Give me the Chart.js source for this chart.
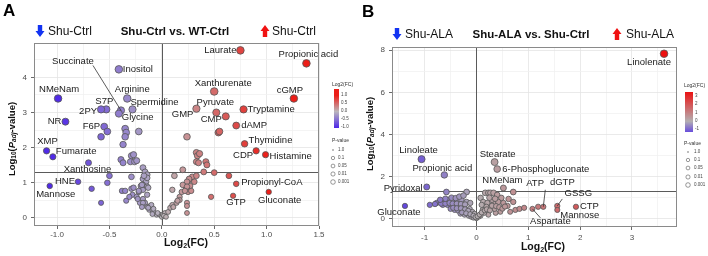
<!DOCTYPE html>
<html>
<head>
<meta charset="utf-8">
<script src="https://cdn.jsdelivr.net/npm/chart.js@4.4.1/dist/chart.umd.min.js"></script>
<style>
  body { margin: 0; background: #fff; }
  #wrap { position: relative; width: 708px; height: 256px; }
  canvas { position: absolute; top: 0; }
</style>
</head>
<body>
<div id="wrap">
  <canvas id="chartA" width="354" height="256" style="left:0"></canvas>
  <canvas id="chartB" width="354" height="256" style="left:354px"></canvas>
</div>
<script>
// ---- panel A: Shu-Ctrl vs. WT-Ctrl ----
const namesA = ["Inositol", "NMeNam", "Arginine", "S7P", "2PY", "Spermidine", "Succinate", "Glycine",
  "NR", "F6P", "XMP", "Fumarate", "Xanthosine", "HNE", "Mannose", "GMP", "Pyruvate", "CMP",
  "Xanthurenate", "Laurate", "Propionic acid", "cGMP", "Tryptamine", "dAMP", "Thymidine", "CDP",
  "Histamine", "Propionyl-CoA", "GTP", "Gluconate"];
const namedFcA = [-0.41, -0.99, -0.33, -0.53, -0.58, -0.28, -0.39, -0.41,
  -0.92, -0.55, -1.10, -1.04, -0.70, -0.80, -1.07, 0.33, 0.52, 0.61,
  0.50, 0.75, 1.38, 1.26, 0.78, 0.71, 0.79, 0.90,
  0.99, 0.71, 0.68, 1.02];
const namedLogpA = [4.23, 3.40, 3.40, 3.09, 3.09, 3.09, 3.06, 2.97,
  2.74, 2.60, 1.91, 1.74, 1.57, 1.03, 0.91, 3.11, 3.00, 2.89,
  3.60, 4.77, 4.40, 3.40, 3.09, 2.63, 2.11, 1.91,
  1.80, 0.97, 0.63, 0.74];
const otherFcA = [
  -0.52, -0.58, -0.35, -0.34, -0.35, -0.22, -0.37,
  -0.39, -0.37, -0.29, -0.30, -0.27, -0.26, -0.24,
  -0.50, -0.52, -0.67, -0.58, -0.29, -0.38, -0.35, -0.29, -0.28, -0.34, -0.31,
  -0.18, -0.16, -0.14, -0.18, -0.15, -0.18, -0.20, -0.22, -0.18, -0.14, -0.24, -0.18, -0.21, -0.16,
  -0.14, -0.11, -0.12, -0.09, -0.07, -0.05, -0.02, 0.00, 0.01, 0.03, 0.06, 0.08, 0.10, 0.11, 0.14,
  0.17, 0.19, 0.23, 0.25, 0.27, 0.27, 0.29, 0.31, 0.33, 0.24, 0.24, 0.17, 0.12, 0.20,
  0.24, 0.33, 0.34, 0.36, 0.33, 0.35, 0.42, 0.43, 0.40, 0.50, 0.64,
  0.26, 0.24, 0.20, 0.24, 0.28, 0.22, 0.10, 0.15, 0.24, 0.47, 0.54, 0.55,
  -0.27, -0.22, -0.19, -0.14, -0.17, -0.13, -0.23, -0.18, -0.14, -0.10, -0.19, -0.13, -0.08, -0.04, -0.09, 0.02, 0.04];
const otherLogpA = [
  2.46, 2.31, 2.54, 2.43, 2.31, 2.46, 2.09,
  1.66, 1.57, 1.77, 1.60, 1.80, 1.60, 1.63,
  1.20, 1.00, 0.83, 0.43, 1.17, 0.77, 0.77, 0.83, 0.66, 0.49, 0.60,
  1.43, 1.31, 1.23, 1.11, 1.03, 0.94, 0.91, 0.74, 0.80, 0.89, 0.60, 0.54, 0.43, 0.43,
  0.31, 0.34, 0.23, 0.23, 0.14, 0.09, 0.09, 0.03, 0.09, 0.14, 0.17, 0.29, 0.37, 0.31, 0.43,
  0.60, 0.74, 0.86, 0.74, 0.91, 1.09, 1.17, 1.03, 1.20, 0.43, 0.34, 0.51, 1.20, 1.37,
  2.31, 1.86, 1.77, 1.83, 1.60, 1.57, 1.60, 1.51, 1.31, 1.29, 1.20,
  1.11, 1.03, 0.94, 0.89, 0.77, 0.77, 0.80, 0.49, 0.14, 0.60, 2.43, 2.46,
  0.86, 0.77, 0.94, 1.14, 1.20, 0.86, 0.54, 0.43, 0.66, 0.37, 0.31, 0.29, 0.26, 0.14, 0.11, 0.06, 0.03];
const xTicksA = [-1, -0.75, -0.5, -0.25, 0, 0.25, 0.5, 0.75, 1, 1.25, 1.5];
const yTicksA = [0, 0.5, 1, 1.5, 2, 2.5, 3, 3.5, 4, 4.5];
const legendFcA = [1.0, 0.5, 0.0, -0.5, -1.0];

// ---- panel B: Shu-ALA vs. Shu-Ctrl ----
const namesB = ["Linolenate", "Linoleate", "Propionic acid", "Pyridoxal", "Gluconate", "Stearate",
  "6-Phosphogluconate", "NMeNam", "ATP", "dGTP", "GSSG", "Mannose", "CTP", "Aspartate"];
const namedFcB = [3.62, -1.06, -0.62, -0.96, -1.38, 0.35, 0.40, 0.52, 1.19, 1.29, 1.56, 1.56, 1.92, 1.08];
const namedLogpB = [7.83, 2.83, 2.08, 1.51, 0.61, 2.69, 2.36, 1.46, 0.57, 0.57, 0.61, 0.42, 0.57, 0.47];
const otherFcB = [
  -0.58, -0.19, -0.90, -0.71, -0.62, -0.54, -0.44, -0.37, -0.29, -0.19, -0.12,
  -0.56, -0.48, -0.40, -0.33, -0.25, -0.50, -0.42, -0.35, -0.27, -0.19, -0.31, -0.23, -0.15, -0.10, -0.06, 0.00,
  -0.13, -0.08, -0.04, -0.65, -0.77,
  0.17, 0.23, 0.27, 0.33, 0.40, 0.48, 0.08, 0.13, 0.21, 0.33, 0.42, 0.52, 0.62, 0.71, 0.60, 0.65, 0.75, 0.83, 0.92,
  0.46, 0.37, 0.23, 0.15, 0.08, 0.04, 0.12, 0.27, 0.35, 0.19, 0.71, 0.10,
  -0.80, -0.68, -0.60, -0.52, -0.46, -0.38, -0.30, -0.22, -0.45, -0.38, -0.30, -0.22, -0.16,
  -0.28, -0.20, -0.12, -0.06, -0.02, 0.02, 0.06, 0.10, 0.16, 0.20, 0.26,
  0.30, 0.38, 0.44, 0.50, 0.55, 0.30, 0.25, 0.36, -0.60, -0.48, -0.40, -0.33, -0.25, -0.70];
const otherLogpB = [
  1.27, 1.27, 0.66, 0.80, 0.80, 0.90, 0.85, 0.85, 0.90, 0.80, 0.75,
  0.66, 0.61, 0.66, 0.57, 0.61, 0.47, 0.42, 0.38, 0.42, 0.33, 0.24, 0.19, 0.14, 0.09, 0.05, 0.02,
  0.47, 0.33, 0.24, 0.66, 0.75,
  1.23, 1.23, 1.23, 1.23, 1.13, 0.99, 0.99, 0.80, 0.75, 0.75, 0.80, 0.75, 0.94, 0.80, 0.61, 0.33, 0.42, 0.47, 0.52,
  0.33, 0.28, 0.19, 0.28, 0.14, 0.09, 0.42, 0.52, 0.47, 0.57, 1.27, 0.66,
  0.70, 0.72, 0.72, 0.75, 0.72, 0.72, 0.70, 0.68, 0.52, 0.50, 0.50, 0.45, 0.38,
  0.30, 0.26, 0.22, 0.15, 0.08, 0.12, 0.20, 0.30, 0.40, 0.45, 0.40,
  0.62, 0.60, 0.55, 0.48, 0.58, 0.90, 1.00, 0.95, 0.95, 1.00, 0.98, 1.05, 1.10, 0.90];
const xTicksB = [-1.5, -1, -0.5, 0, 0.5, 1, 1.5, 2, 2.5, 3, 3.5];
const yTicksB = [0, 1, 2, 3, 4, 5, 6, 7, 8];
const legendFcB = [3, 2, 1, 0, -1];

const pLegend = ["1.0", "0.1", "0.05", "0.01", "0.001"];
const pThreshold = 0.05;

const FONT = '"Liberation Sans", Arial, sans-serif';

function mix(a, b, t) { return a.map((v, i) => Math.round(v + (b[i] - v) * t)); }
function gradColor(v, stops) {
  if (v <= stops[0][0]) return 'rgb(' + stops[0][1] + ')';
  for (let i = 1; i < stops.length; i++) {
    if (v <= stops[i][0]) {
      const t = (v - stops[i - 1][0]) / (stops[i][0] - stops[i - 1][0]);
      return 'rgb(' + mix(stops[i - 1][1], stops[i][1], t) + ')';
    }
  }
  return 'rgb(' + stops[stops.length - 1][1] + ')';
}

function richText(ctx, parts, x, y, angle) {
  ctx.save();
  ctx.translate(x, y);
  ctx.rotate(angle || 0);
  let w = 0;
  parts.forEach(p => { ctx.font = p.f; w += ctx.measureText(p.t).width; });
  let cx = -w / 2;
  ctx.textBaseline = 'middle';
  ctx.textAlign = 'left';
  ctx.fillStyle = '#111';
  parts.forEach(p => {
    ctx.font = p.f;
    ctx.fillText(p.t, cx, p.dy || 0);
    cx += ctx.measureText(p.t).width;
  });
  ctx.restore();
}

function drawArrow(ctx, x, top, h, up, color) {
  const hw = 4.5, sw = 2.2, headH = h * 0.5;
  ctx.save();
  ctx.fillStyle = color;
  ctx.beginPath();
  if (up) {
    ctx.moveTo(x, top);
    ctx.lineTo(x + hw, top + headH);
    ctx.lineTo(x + sw, top + headH);
    ctx.lineTo(x + sw, top + h);
    ctx.lineTo(x - sw, top + h);
    ctx.lineTo(x - sw, top + headH);
    ctx.lineTo(x - hw, top + headH);
  } else {
    ctx.moveTo(x - sw, top);
    ctx.lineTo(x + sw, top);
    ctx.lineTo(x + sw, top + h - headH);
    ctx.lineTo(x + hw, top + h - headH);
    ctx.lineTo(x, top + h);
    ctx.lineTo(x - hw, top + h - headH);
    ctx.lineTo(x - sw, top + h - headH);
  }
  ctx.closePath();
  ctx.fill();
  ctx.restore();
}

const xTitle = [
  { t: 'Log', f: 'bold 10.5px ' + FONT },
  { t: '2', f: 'bold 7px ' + FONT, dy: 3 },
  { t: '(FC)', f: 'bold 10.5px ' + FONT }];
const yTitle = [
  { t: 'Log', f: 'bold 9.5px ' + FONT },
  { t: '10', f: 'bold 6.5px ' + FONT, dy: 2.5 },
  { t: '(', f: 'bold 9.5px ' + FONT },
  { t: 'P', f: 'italic bold 9.5px ' + FONT },
  { t: 'adj', f: 'italic bold 6.5px ' + FONT, dy: 2.5 },
  { t: '-value)', f: 'bold 9.5px ' + FONT }];

function decor(d) {
  return {
    id: 'decor',
    beforeDatasetsDraw(chart) {
      const { ctx, chartArea: a, scales: { x, y } } = chart;
      ctx.save();
      ctx.strokeStyle = '#5a5a5a';
      ctx.lineWidth = 1;
      const x0 = Math.round(x.getPixelForValue(0)) + 0.5;
      const yT = Math.round(y.getPixelForValue(-Math.log10(pThreshold))) + 0.5;
      ctx.beginPath();
      ctx.moveTo(x0, a.top); ctx.lineTo(x0, a.bottom);
      ctx.moveTo(a.left, yT); ctx.lineTo(a.right, yT);
      ctx.stroke();
      ctx.restore();
    },
    afterDatasetsDraw(chart) {
      const { ctx, chartArea: a } = chart;
      const meta = chart.getDatasetMeta(0);
      ctx.save();
      ctx.strokeStyle = '#8a8a8a';
      ctx.lineWidth = 1;
      ctx.strokeRect(a.left + 0.5, a.top + 0.5, a.right - a.left - 1, a.bottom - a.top - 1);
      // point labels
      ctx.font = '9.5px ' + FONT;
      ctx.fillStyle = '#1a1a1a';
      ctx.textBaseline = 'middle';
      d.names.forEach((name, i) => {
        const el = meta.data[i];
        const p = d.place[name];
        if (p.lx !== undefined) {
          ctx.strokeStyle = '#333';
          ctx.lineWidth = 0.8;
          ctx.beginPath();
          ctx.moveTo(el.x + p.lx, el.y + p.ly);
          ctx.lineTo(el.x, el.y);
          ctx.stroke();
        }
        ctx.textAlign = p.a;
        ctx.fillText(name, el.x + p.dx, el.y + p.dy);
      });
      ctx.restore();
    },
    afterDraw(chart) {
      const ctx = chart.ctx;
      const o = d.ox;
      ctx.save();
      ctx.fillStyle = '#000';
      ctx.font = 'bold 17px ' + FONT;
      ctx.textAlign = 'left';
      ctx.textBaseline = 'alphabetic';
      ctx.fillText(d.letter, d.letterX - o, d.letterY);
      d.arrows.forEach(ar => drawArrow(ctx, ar.x - o, ar.top, 12, ar.up, ar.c));
      ctx.textBaseline = 'middle';
      d.heads.forEach(t => {
        ctx.font = t.f + ' ' + FONT;
        ctx.textAlign = t.a;
        ctx.fillStyle = '#111';
        ctx.fillText(t.t, t.x - o, t.y);
      });
      richText(ctx, xTitle, d.xTitle[0] - o, d.xTitle[1], 0);
      richText(ctx, yTitle, d.yTitle[0] - o, d.yTitle[1], -Math.PI / 2);

      // legend: colour bar
      const L = d.legend;
      ctx.fillStyle = '#333';
      ctx.font = '5px ' + FONT;
      ctx.textAlign = 'left';
      ctx.fillText('Log2(FC)', L.x - o, L.titleY);
      const bx = L.barX - o;
      for (let py = L.barTop; py < L.barBot; py++) {
        const v = L.vTop + (L.vBot - L.vTop) * (py - L.barTop) / (L.barBot - L.barTop);
        ctx.fillStyle = gradColor(v, d.stops);
        ctx.fillRect(bx, py, L.barW, 1);
      }
      ctx.fillStyle = '#444';
      ctx.font = '4.5px ' + FONT;
      d.legendFc.forEach(v => {
        const py = L.barTop + (L.vTop - v) / (L.vTop - L.vBot) * (L.barBot - L.barTop);
        ctx.fillText(d.fmt(v), bx + L.barW + 2, py);
      });
      // legend: p-value sizes
      ctx.fillStyle = '#333';
      ctx.font = '5px ' + FONT;
      ctx.fillText('P-value', L.x - o, L.pTitleY);
      pLegend.forEach((lab, i) => {
        const py = L.pY[i];
        ctx.strokeStyle = '#555';
        ctx.lineWidth = 0.6;
        ctx.beginPath();
        ctx.arc(L.cX - o, py, L.pR[i], 0, Math.PI * 2);
        ctx.stroke();
        ctx.fillStyle = '#444';
        ctx.font = '4.5px ' + FONT;
        ctx.fillText(lab, L.tX - o, py);
      });
      ctx.restore();
    }
  };
}

function volcano(id, d) {
  const fc = d.namedFc.concat(d.otherFc);
  const lp = d.namedLogp.concat(d.otherLogp);
  const pts = fc.map((v, i) => ({ x: v, y: lp[i] }));
  const gridColor = (maj) => ctx => (ctx.tick && maj(ctx.tick.value)) ? '#e4e4e4' : '#f1f1f1';
  const tickColor = (maj) => ctx => (ctx.tick && maj(ctx.tick.value)) ? '#444' : 'rgba(0,0,0,0)';
  const radius = ctx => ctx.raw ? 2.4 + 0.4 * Math.min(ctx.raw.y, 3.5) : 3;
  return new Chart(document.getElementById(id), {
    type: 'scatter',
    data: {
      datasets: [{
        data: pts,
        backgroundColor: ctx => ctx.raw ? gradColor(ctx.raw.x, d.stops) : '#aaa',
        borderColor: '#555',
        borderWidth: 0.8,
        pointRadius: radius,
        pointHoverRadius: radius
      }]
    },
    options: {
      responsive: false,
      animation: false,
      events: [],
      layout: { padding: { top: d.top, right: d.right, left: 0, bottom: 0 } },
      plugins: { legend: { display: false }, tooltip: { enabled: false } },
      scales: {
        x: {
          type: 'linear', min: d.xMin, max: d.xMax,
          afterBuildTicks: s => { s.ticks = d.xTicks.map(v => ({ value: v })); },
          afterFit: s => { s.height = d.xH; },
          ticks: {
            autoSkip: false, maxRotation: 0, padding: d.xPad, color: '#4d4d4d',
            font: { family: FONT, size: 8 },
            callback: v => d.xMaj(v) ? d.fmt(v) : ''
          },
          grid: { color: gridColor(d.xMaj), lineWidth: 0.8, tickLength: 3, tickColor: tickColor(d.xMaj) },
          border: { display: false }
        },
        y: {
          type: 'linear', min: d.yMin, max: d.yMax,
          afterBuildTicks: s => { s.ticks = d.yTicks.map(v => ({ value: v })); },
          afterFit: s => { s.width = d.yW; },
          ticks: {
            autoSkip: false, padding: d.yPad, color: '#4d4d4d',
            font: { family: FONT, size: 8 },
            callback: v => d.yMaj(v) ? String(v) : ''
          },
          grid: { color: gridColor(d.yMaj), lineWidth: 0.8, tickLength: 3, tickColor: tickColor(d.yMaj) },
          border: { display: false }
        }
      }
    },
    plugins: [decor(d)]
  });
}

const near = (v, step) => Math.abs(v / step - Math.round(v / step)) < 1e-9;

volcano('chartA', {
  ox: 0,
  names: namesA, namedFc: namedFcA, namedLogp: namedLogpA, otherFc: otherFcA, otherLogp: otherLogpA,
  xMin: -1.22, xMax: 1.5, yMin: -0.23, yMax: 4.98,
  xTicks: xTicksA, yTicks: yTicksA,
  xMaj: v => near(v, 0.5), yMaj: v => near(v, 1),
  fmt: v => v.toFixed(1),
  top: 43, right: 35, xH: 30, yW: 34, xPad: 1, yPad: 4,
  stops: [[-1, [80, 42, 232]], [0, [188, 183, 188]], [1, [236, 30, 24]]],
  legendFc: legendFcA,
  letter: 'A', letterX: 3, letterY: 16,
  arrows: [{ x: 40, top: 25, up: false, c: '#1233f2' }, { x: 265, top: 25, up: true, c: '#f01212' }],
  heads: [
    { t: 'Shu-Ctrl', x: 48, y: 32, f: '12px', a: 'left' },
    { t: 'Shu-Ctrl vs. WT-Ctrl', x: 175, y: 32, f: 'bold 11.5px', a: 'center' },
    { t: 'Shu-Ctrl', x: 272, y: 32, f: '12px', a: 'left' }],
  xTitle: [186, 243], yTitle: [12, 139],
  legend: {
    x: 332, titleY: 85, barX: 334, barW: 5, barTop: 89, barBot: 128, vTop: 1.375, vBot: -1.06,
    pTitleY: 141, cX: 333, tX: 338, pY: [150, 158, 166, 174, 182], pR: [0.5, 1.7, 1.9, 2.1, 2.3]
  },
  place: {
    'Inositol': { dx: 4, dy: 0, a: 'left' },
    'NMeNam': { dx: 1, dy: -9, a: 'center' },
    'Arginine': { dx: 5, dy: -9, a: 'center' },
    'S7P': { dx: -2, dy: -8, a: 'center' },
    '2PY': { dx: -4, dy: 2, a: 'right' },
    'Spermidine': { dx: -2, dy: -7, a: 'left' },
    'Succinate': { dx: -48, dy: -49, a: 'center', lx: -28, ly: -45 },
    'Glycine': { dx: 3, dy: 4, a: 'left' },
    'NR': { dx: -4, dy: 0, a: 'right' },
    'F6P': { dx: -4, dy: 0, a: 'right' },
    'XMP': { dx: 1, dy: -9, a: 'center' },
    'Fumarate': { dx: 3, dy: -5, a: 'left' },
    'Xanthosine': { dx: -1, dy: 7, a: 'center' },
    'HNE': { dx: -3, dy: 0, a: 'right' },
    'Mannose': { dx: 6, dy: 8, a: 'center' },
    'GMP': { dx: -3, dy: 6, a: 'right' },
    'Pyruvate': { dx: -1, dy: -10, a: 'center' },
    'CMP': { dx: -4, dy: 3, a: 'right' },
    'Xanthurenate': { dx: 9, dy: -8, a: 'center' },
    'Laurate': { dx: -4, dy: 0, a: 'right' },
    'Propionic acid': { dx: 2, dy: -9, a: 'center' },
    'cGMP': { dx: -4, dy: -8, a: 'center' },
    'Tryptamine': { dx: 4, dy: 0, a: 'left' },
    'dAMP': { dx: 5, dy: 0, a: 'left' },
    'Thymidine': { dx: 4, dy: -3, a: 'left' },
    'CDP': { dx: -3, dy: 5, a: 'right' },
    'Histamine': { dx: 4, dy: 2, a: 'left' },
    'Propionyl-CoA': { dx: 5, dy: -1, a: 'left' },
    'GTP': { dx: 3, dy: 7, a: 'center' },
    'Gluconate': { dx: 11, dy: 8, a: 'center' }
  }
});

volcano('chartB', {
  ox: 354,
  names: namesB, namedFc: namedFcB, namedLogp: namedLogpB, otherFc: otherFcB, otherLogp: otherLogpB,
  xMin: -1.63, xMax: 3.87, yMin: -0.39, yMax: 8.15,
  xTicks: xTicksB, yTicks: yTicksB,
  xMaj: v => near(v, 1), yMaj: v => near(v, 2),
  fmt: v => String(v),
  top: 47, right: 31, xH: 29, yW: 38, xPad: 3, yPad: 4,
  stops: [[-1.5, [92, 62, 226]], [0, [180, 175, 178]], [3.6, [236, 16, 16]]],
  legendFc: legendFcB,
  letter: 'B', letterX: 362, letterY: 17,
  arrows: [{ x: 397, top: 28, up: false, c: '#1233f2' }, { x: 617, top: 28, up: true, c: '#f01212' }],
  heads: [
    { t: 'Shu-ALA', x: 405, y: 35, f: '12px', a: 'left' },
    { t: 'Shu-ALA vs. Shu-Ctrl', x: 531, y: 35, f: 'bold 11.5px', a: 'center' },
    { t: 'Shu-ALA', x: 626, y: 35, f: '12px', a: 'left' }],
  xTitle: [543, 247], yTitle: [370, 134],
  legend: {
    x: 684, titleY: 86, barX: 685, barW: 8, barTop: 92, barBot: 132, vTop: 3.48, vBot: -1.36,
    pTitleY: 144, cX: 688, tX: 694, pY: [152, 160, 168, 177, 185], pR: [0.5, 1.7, 1.9, 2.1, 2.3]
  },
  place: {
    'Linolenate': { dx: -15, dy: 9, a: 'center' },
    'Linoleate': { dx: -3, dy: -9, a: 'center' },
    'Propionic acid': { dx: -2, dy: -7, a: 'center' },
    'Pyridoxal': { dx: -4, dy: 1, a: 'right' },
    'Gluconate': { dx: -6, dy: 6, a: 'center' },
    'Stearate': { dx: 3, dy: -8, a: 'center' },
    '6-Phosphogluconate': { dx: 5, dy: 0, a: 'left' },
    'NMeNam': { dx: -1, dy: -8, a: 'center' },
    'ATP': { dx: -3, dy: -23, a: 'center' },
    'dGTP': { dx: 19, dy: -24, a: 'center', lx: 2, ly: -17 },
    'GSSG': { dx: 21, dy: -13, a: 'center', lx: 5, ly: -7 },
    'Mannose': { dx: 3, dy: 5, a: 'left' },
    'CTP': { dx: 4, dy: 0, a: 'left' },
    'Aspartate': { dx: 18, dy: 13, a: 'center', lx: 8, ly: 9 }
  }
});
</script>
</body>
</html>
